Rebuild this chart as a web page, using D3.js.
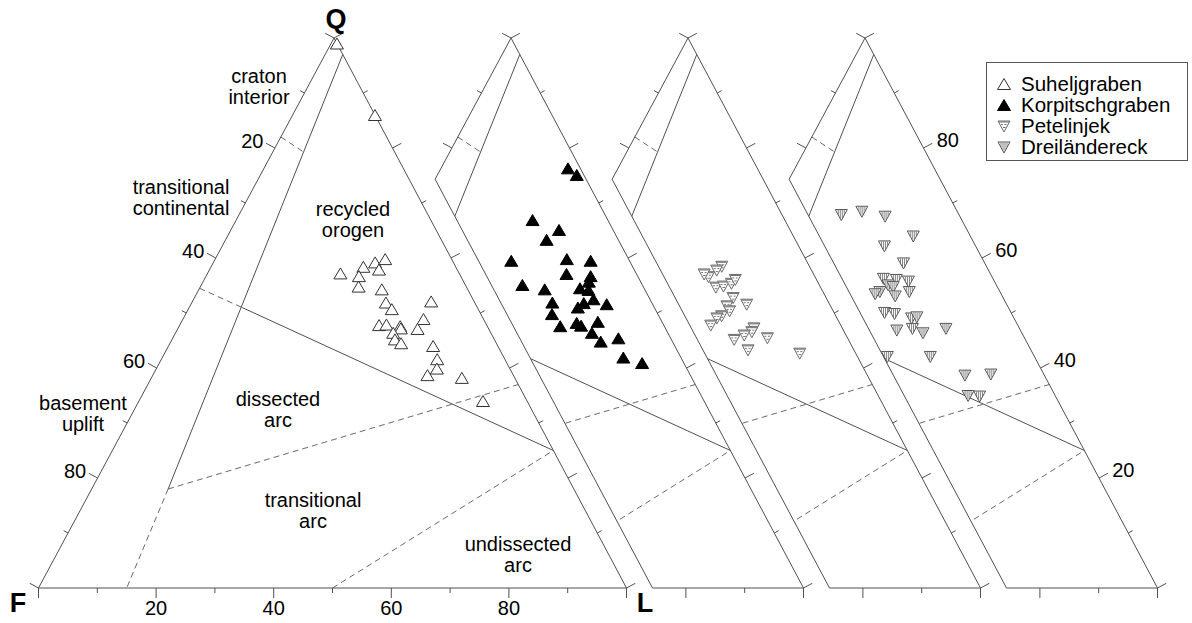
<!DOCTYPE html>
<html><head><meta charset="utf-8">
<script src="https://cdn.jsdelivr.net/npm/d3@7"></script>
<style>
html,body{margin:0;padding:0;background:#fff;}
svg{display:block;font-family:Arial,"Liberation Sans",sans-serif;}
</style></head><body>
<svg id="chart" width="1192" height="623"></svg>
<script>
// Framework-grain compositions, percent [Q, F, L]
const suheljgraben = [
  [99,0,1],[86,0,14],[57.2,20.2,22.6],[58.4,15.7,25.9],[56.7,17.3,26.0],[54.8,18.3,26.9],
  [59.2,13.3,27.5],[59.8,11.3,28.9],[57.9,13.3,28.8],[54.3,14.6,31.1],[51.9,15.1,33.0],
  [50.7,14.7,34.6],[52.1,7.3,40.6],[48.9,10.2,40.9],[47.1,12.1,40.8],[47.8,18.3,33.9],
  [47.9,17.0,35.1],[47.6,14.8,37.6],[47.2,14.9,37.9],[46.4,16.6,37.0],[45.2,16.9,37.9],
  [44.5,16.2,39.3],[44.0,11.0,45.0],[41.6,11.5,46.9],[39.9,12.4,47.7],[38.7,14.6,46.7],
  [38.2,9.0,52.8],[34.0,7.5,58.5]
];
const korpitschgraben = [
  [76.3,2.1,21.6],[75.1,1.2,23.7],[66.9,12.8,20.3],[65.1,9.2,25.7],[63.3,12.2,24.5],
  [59.5,20.1,20.4],[59.8,10.5,29.7],[59.5,6.6,33.9],[57.1,11.9,31.0],[56.7,8.0,35.3],
  [55.7,8.8,35.5],[54.5,10.9,34.6],[54.2,9.6,36.2],[52.5,9.6,37.9],[51.8,11.6,36.6],
  [51.0,13.0,36.0],[51.6,7.8,40.6],[55.1,20.4,24.5],[54.3,17.0,28.7],[51.9,16.9,31.2],
  [49.8,18.0,32.2],[47.6,17.7,34.7],[48.2,14.6,37.2],[47.7,14.1,38.2],[48.4,10.9,40.7],
  [46.4,12.9,40.7],[44.8,12.2,43.0],[45.4,8.9,45.7],[41.9,9.8,48.3],[40.9,7.1,52.0]
];
const petelinjek = [
  [58.5,14.9,26.6],[57.8,16.1,26.1],[56.6,18.1,25.3],[57.1,18.6,24.3],[54.7,17.8,27.5],
  [54.9,16.4,28.7],[55.4,14.8,29.8],[56.1,13.8,30.1],[52.8,15.8,31.4],[51.6,14.1,34.3],
  [51.3,17.6,31.1],[50.4,17.6,32.0],[49.5,19.4,31.1],[49.1,20.4,30.5],[47.8,22.1,30.1],
  [47.3,15.0,37.7],[46.6,15.7,37.7],[46.0,17.3,36.7],[45.2,19.4,35.4],[45.5,13.6,40.9],
  [43.3,18.0,38.7],[42.7,9.5,47.8]
];
const dreilaendereck = [
  [67.9,20.0,12.1],[68.5,16.2,15.3],[67.6,12.7,19.7],[64.0,9.7,26.3],[62.2,15.5,22.3],
  [59.1,13.8,27.1],[56.3,18.6,25.1],[56.1,16.5,27.4],[55.8,14.6,29.6],[55.1,18.4,26.5],
  [54.8,17.7,27.5],[53.9,20.4,25.7],[53.5,21.4,25.1],[53.1,18.2,28.7],[53.9,15.4,30.7],
  [50.1,21.5,28.4],[49.9,19.9,30.2],[49.1,17.4,33.5],[49.3,16.4,34.3],[47.2,18.2,34.6],
  [46.4,16.8,36.8],[46.9,21.0,32.1],[47.2,12.5,40.3],[42.1,25.0,32.9],[42.1,17.7,40.2],
  [38.7,13.5,47.8],[38.9,9.0,52.1],[35.0,14.8,50.2],[34.9,12.9,52.2]
];
const seriesNames = ["Suheljgraben", "Korpitschgraben", "Petelinjek", "Dreiländereck"];
const seriesData = [suheljgraben, korpitschgraben, petelinjek, dreilaendereck];

// Provenance field boundaries, endpoints as [Q, F, L]
const solidBoundaries = [
  [[97, 0, 3], [18, 69, 13]],
  [[51, 40, 9], [25, 0, 75]]
];
const dashedBoundaries = [
  [[82, 18, 0], [79.3, 15.5, 5.2]],
  [[54.5, 45.5, 0], [51, 40, 9]],
  [[18, 69, 13], [0, 85, 15]],
  [[18, 69, 13], [37, 0, 63]],
  [[0, 50, 50], [25, 0, 75]]
];

const tickValues = d3.range(0, 101, 10);
const leftTickLabels = [20, 40, 60, 80];
const bottomTickLabels = [20, 40, 60, 80];
const rightTickLabels = [80, 60, 40, 20];

// Geometry of one diagram and the stacking of the four copies
const V = { Q: [334, 38], F: [38.5, 588], L: [626.5, 588] };
const shift = 177, bandWidth = 26;

const qY = d3.scaleLinear().domain([0, 100]).range([V.F[1], V.Q[1]]);
const lX = d3.scaleLinear().domain([0, 100]).range([0, V.L[0] - V.F[0]]);
const qX = d3.scaleLinear().domain([0, 100]).range([0, V.Q[0] - V.F[0]]);

function proj(p, k) {
  const s = p[0] + p[1] + p[2];
  const q = p[0] / s * 100, l = p[2] / s * 100;
  return [V.F[0] + k * shift + lX(l) + qX(q), qY(q)];
}
function unit(dx, dy) { const n = Math.hypot(dx, dy); return [dx / n, dy / n]; }
const nLeft = unit(-(V.F[1] - V.Q[1]), (V.F[0] - V.Q[0]));   // outward from Q-F edge
const nRight = unit((V.L[1] - V.Q[1]), -(V.L[0] - V.Q[0]));  // outward from Q-L edge
const nBottom = [0, 1];

const svg = d3.select("#chart");
const defs = svg.append("defs");
const lineColor = "#505050";
const line = d3.line();

function bandLine(k) {
  // right edge of diagram k-1, pushed right by the band width
  const a = [V.Q[0] + (k - 1) * shift + bandWidth, V.Q[1]];
  const b = [V.L[0] + (k - 1) * shift + bandWidth, V.L[1]];
  return [a, b];
}
function atY(seg, y) {
  const [a, b] = seg;
  return a[0] + (y - a[1]) * (b[0] - a[0]) / (b[1] - a[1]);
}
function intersect(p1, p2, p3, p4) {
  const d = (p1[0] - p2[0]) * (p3[1] - p4[1]) - (p1[1] - p2[1]) * (p3[0] - p4[0]);
  const t = ((p1[0] - p3[0]) * (p3[1] - p4[1]) - (p1[1] - p3[1]) * (p3[0] - p4[0])) / d;
  return [p1[0] + t * (p2[0] - p1[0]), p1[1] + t * (p2[1] - p1[1])];
}

// Diagrams are drawn right to left; each one is cut by the band next to its left neighbour
for (let k = 3; k >= 0; k--) {
  const Qk = proj([100, 0, 0], k), Fk = proj([0, 100, 0], k), Lk = proj([0, 0, 100], k);
  const g = svg.append("g");
  const inner = g.append("g");
  let outline;
  if (k > 0) {
    const bl = bandLine(k);
    const top = [atY(bl, -100), -100], bot = [atY(bl, 700), 700];
    defs.append("clipPath").attr("id", "band" + k)
      .append("path").attr("d", line([top, [1300, -100], [1300, 700], bot]) + "Z");
    inner.attr("clip-path", `url(#band${k})`);
    const corner = intersect(Qk, Fk, bl[0], bl[1]);
    const baseStart = [atY(bl, V.F[1]), V.F[1]];
    outline = [Qk, corner, baseStart, Lk];
  } else {
    outline = [Qk, Fk, Lk];
  }

  // field boundaries
  inner.selectAll(null).data(solidBoundaries).join("path")
    .attr("d", d => line(d.map(p => proj(p, k))))
    .attr("fill", "none").attr("stroke", lineColor).attr("stroke-width", 1);
  inner.selectAll(null).data(dashedBoundaries).join("path")
    .attr("d", d => line(d.map(p => proj(p, k))))
    .attr("fill", "none").attr("stroke", "#6a6a6a").attr("stroke-width", 1)
    .attr("stroke-dasharray", "6,4");

  // ticks on all three edges
  const tickLen = v => (v % 20 === 0 ? 10 : 5);
  const ticks = [];
  tickValues.forEach(v => {
    ticks.push({ p: proj([0, 100 - v, v], k), n: nBottom, len: tickLen(v) });
    ticks.push({ p: proj([100 - v, v, 0], k), n: nLeft, len: tickLen(v) });
    ticks.push({ p: proj([v, 0, 100 - v], k), n: nRight, len: tickLen(v) });
  });
  inner.selectAll(null).data(ticks).join("line")
    .attr("x1", d => d.p[0]).attr("y1", d => d.p[1])
    .attr("x2", d => d.p[0] + d.n[0] * d.len).attr("y2", d => d.p[1] + d.n[1] * d.len)
    .attr("stroke", lineColor).attr("stroke-width", 1);

  g.append("path").attr("d", line(outline) + "Z")
    .attr("fill", "none").attr("stroke", lineColor).attr("stroke-width", 1);
}

// Axis numbers
const numFont = 20;
svg.selectAll(null).data(leftTickLabels).join("text")
  .attr("x", v => proj([100 - v, v, 0], 0)[0] + nLeft[0] * 13)
  .attr("y", v => proj([100 - v, v, 0], 0)[1] + nLeft[1] * 13 + 6)
  .attr("text-anchor", "end").attr("font-size", numFont).text(v => v);
svg.selectAll(null).data(bottomTickLabels).join("text")
  .attr("x", v => proj([0, 100 - v, v], 0)[0])
  .attr("y", 615)
  .attr("text-anchor", "middle").attr("font-size", numFont).text(v => v);
svg.selectAll(null).data(rightTickLabels).join("text")
  .attr("x", v => proj([v, 0, 100 - v], 3)[0] + nRight[0] * 15)
  .attr("y", v => proj([v, 0, 100 - v], 3)[1] + nRight[1] * 15 + 6)
  .attr("text-anchor", "start").attr("font-size", numFont).text(v => v);

// Apex letters
const apex = [["Q", 336, 28, "middle"], ["F", 18, 612, "middle"], ["L", 645, 612, "middle"]];
svg.selectAll(null).data(apex).join("text")
  .attr("x", d => d[1]).attr("y", d => d[2]).attr("text-anchor", d => d[3])
  .attr("font-size", 27).attr("font-weight", "bold").text(d => d[0]);

// Field names
const fieldLabels = [
  [["craton", "interior"], 259, 83],
  [["transitional", "continental"], 181, 194],
  [["recycled", "orogen"], 353, 216],
  [["basement", "uplift"], 83, 410],
  [["dissected", "arc"], 278, 406],
  [["transitional", "arc"], 313, 507],
  [["undissected", "arc"], 518, 551]
];
fieldLabels.forEach(([lines, x, y]) => {
  const t = svg.append("text").attr("text-anchor", "middle").attr("font-size", 20);
  lines.forEach((s, i) => t.append("tspan").attr("x", x).attr("y", y + i * 21).text(s));
});

// Marker glyphs
function drawMarker(sel, type) {
  if (type === 0) {
    sel.append("path").attr("d", "M0,-5.5L6.5,5.5L-6.5,5.5Z")
      .attr("fill", "#fff").attr("stroke", "#333").attr("stroke-width", 1);
  } else if (type === 1) {
    sel.append("path").attr("d", "M0,-5.5L6.5,5.5L-6.5,5.5Z")
      .attr("fill", "#000").attr("stroke", "#000").attr("stroke-width", 1);
  } else if (type === 2) {
    sel.append("path").attr("d", "M-6,-5L6,-5L0,6Z")
      .attr("fill", "#fff").attr("stroke", "#6a6a6a").attr("stroke-width", 1);
    sel.append("path").attr("d", "M-5,-4L5,-4").attr("stroke", "#6a6a6a").attr("stroke-width", 1);
    sel.append("path").attr("d", "M-3,-1.5L3,-1.5").attr("stroke", "#777")
      .attr("stroke-width", 1).attr("stroke-dasharray", "2,1.5");
    sel.append("path").attr("d", "M-1,1.5L1.5,1.5").attr("stroke", "#777").attr("stroke-width", 1);
  } else {
    sel.append("path").attr("d", "M-6,-5L6,-5L0,6Z")
      .attr("fill", "#fff").attr("stroke", "#555").attr("stroke-width", 1);
    [-3, -1, 1, 3].forEach(x => {
      const yb = -5 + 11 * (1 - Math.abs(x) / 6) - 0.5;
      sel.append("path").attr("d", `M${x},-4.5L${x},${yb}`)
        .attr("stroke", "#666").attr("stroke-width", 0.8);
    });
  }
}

seriesData.forEach((data, k) => {
  const g = svg.append("g");
  data.forEach(p => {
    const [x, y] = proj(p, k);
    drawMarker(g.append("g").attr("transform", `translate(${x},${y})`), k);
  });
});

// Legend
const lg = svg.append("g");
lg.append("rect").attr("x", 986.5).attr("y", 62.5).attr("width", 201).attr("height", 98)
  .attr("fill", "#fff").attr("stroke", "#555").attr("stroke-width", 1);
seriesNames.forEach((name, i) => {
  const y = 84 + i * 21;
  drawMarker(lg.append("g").attr("transform", `translate(1004,${y})`), i);
  lg.append("text").attr("x", 1021).attr("y", y + 7).attr("font-size", 20.5).text(name);
});
</script>
</body></html>
